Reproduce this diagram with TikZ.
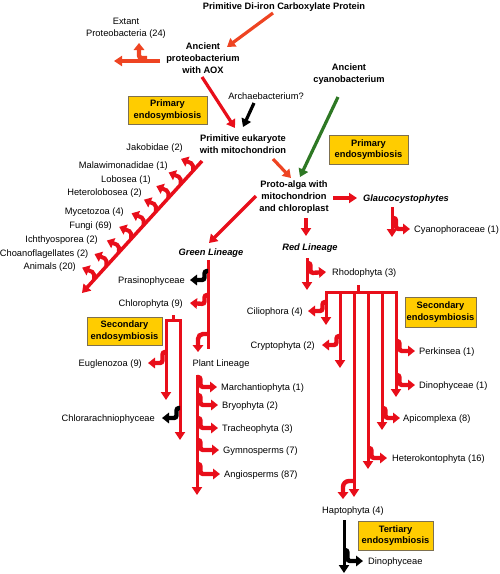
\documentclass[tikz,border=0pt]{standalone}
\usepackage{fontspec}
\setmainfont{Liberation Sans}
\usetikzlibrary{arrows.meta,calc}
\definecolor{lred}{RGB}{232,14,26}
\definecolor{lorange}{RGB}{238,68,34}
\definecolor{lgreen}{RGB}{46,120,36}
\definecolor{lgold}{RGB}{255,204,0}
\definecolor{lborder}{RGB}{125,112,80}
\tikzset{
  fnt/.style={font=\fontsize{9.3}{12}\selectfont},
  lbl/.style={fnt, inner sep=0pt, text height=6.7pt, text depth=0pt},
  blbl/.style={lbl, font=\fontsize{9.3}{12}\selectfont\bfseries},
  ilbl/.style={lbl, font=\fontsize{9.3}{12}\selectfont\bfseries\itshape},
  multi/.style={inner sep=0pt, align=center, font=\fontsize{9.3}{12}\selectfont\bfseries},
  mlbl/.style={inner sep=0pt, align=center, font=\fontsize{9.3}{12}\selectfont},
  ebox/.style={draw=lborder, line width=1pt, fill=lgold, align=center, inner sep=1pt,
    font=\fontsize{9.3}{11.5}\selectfont\bfseries},
  trunk/.style={line width=3pt, lred},
  tarrow/.style={trunk, -{Triangle[width=10pt,length=8pt]}},
  hookr/.style={line width=4.4pt, lred, rounded corners=2.5pt, -{Triangle[width=10.5pt,length=7pt]}},
}
\begin{document}
\begin{tikzpicture}[x=1pt,y=-1pt]
\useasboundingbox (0,0) rectangle (500,574);

% ---------- text nodes ----------
\node[blbl] (top) at (284,6) {Primitive Di-iron Carboxylate Protein};
\node[mlbl] (extant) at (126,28) {Extant\\Proteobacteria (24)};
\node[multi] (anc) at (203,58.5) {Ancient\\proteobacterium\\with AOX};
\node[lbl] (archae) at (266,96) {Archaebacterium?};
\node[multi] (euk) at (243,144.5) {Primitive eukaryote\\with mitochondrion};
\node[multi] (cyano) at (349,74.5) {Ancient\\cyanobacterium};
\node[multi] (proto) at (294,197) {Proto-alga with\\mitochondrion\\and chloroplast};
\node[ilbl] (glauco) at (406,198) {Glaucocystophytes};
\node[lbl, anchor=west] (cyph) at (414,229) {Cyanophoraceae (1)};
\node[ilbl] (redl) at (310,247) {Red Lineage};
\node[ilbl] (greenl) at (211,252) {Green Lineage};

\node[lbl, anchor=east] (jak) at (183,147) {Jakobidae (2)};
\node[lbl, anchor=east] (mal) at (168,165) {Malawimonadidae (1)};
\node[lbl, anchor=east] (lob) at (151,179) {Lobosea (1)};
\node[lbl, anchor=east] (het) at (142,192) {Heterolobosea (2)};
\node[lbl, anchor=east] (myc) at (124,211) {Mycetozoa (4)};
\node[lbl, anchor=east] (fun) at (112,225) {Fungi (69)};
\node[lbl, anchor=east] (ich) at (98,239) {Ichthyosporea (2)};
\node[lbl, anchor=east] (cho) at (88.5,253) {Choanoflagellates (2)};
\node[lbl, anchor=east] (ani) at (76,266) {Animals (20)};

\node[lbl, anchor=east] (pras) at (185,280) {Prasinophyceae};
\node[lbl, anchor=east] (chlo) at (183,303) {Chlorophyta (9)};
\node[lbl] (plant) at (221,363) {Plant Lineage};
\node[lbl, anchor=east] (eugl) at (142,363) {Euglenozoa (9)};
\node[lbl, anchor=east] (chra) at (155,418) {Chlorarachniophyceae};
\node[lbl, anchor=west] (march) at (221,387) {Marchantiophyta (1)};
\node[lbl, anchor=west] (bryo) at (222,405) {Bryophyta (2)};
\node[lbl, anchor=west] (trach) at (222,428) {Tracheophyta (3)};
\node[lbl, anchor=west] (gymno) at (223,450) {Gymnosperms (7)};
\node[lbl, anchor=west] (angio) at (224,474) {Angiosperms (87)};

\node[lbl, anchor=west] (rhodo) at (332,272) {Rhodophyta (3)};
\node[lbl, anchor=east] (cili) at (303,311) {Ciliophora (4)};
\node[lbl, anchor=east] (crypt) at (315,345) {Cryptophyta (2)};
\node[lbl, anchor=west] (perk) at (419,351) {Perkinsea (1)};
\node[lbl, anchor=west] (dino1) at (419,385) {Dinophyceae (1)};
\node[lbl, anchor=west] (apic) at (403,418) {Apicomplexa (8)};
\node[lbl, anchor=west] (hetk) at (392,458) {Heterokontophyta (16)};
\node[lbl] (hapto) at (353,510) {Haptophyta (4)};
\node[lbl, anchor=west] (dino2) at (368,561) {Dinophyceae};

% ---------- boxes ----------
\node[ebox, minimum width=79pt, minimum height=28pt] (box1) at (167.5,110) {Primary\\endosymbiosis};
\node[ebox, minimum width=79pt, minimum height=29pt] (box2) at (368.5,149.5) {Primary\\endosymbiosis};
\node[ebox, minimum width=75pt, minimum height=28pt] (box3) at (124.5,331) {Secondary\\endosymbiosis};
\node[ebox, minimum width=71pt, minimum height=30pt] (box4) at (440.5,312) {Secondary\\endosymbiosis};
\node[ebox, minimum width=75pt, minimum height=29pt] (box5) at (395.5,535.5) {Tertiary\\endosymbiosis};

% ---------- upper arrows ----------
\draw[tarrow, lorange, line width=3.2pt] (273,13) -- (227,47);
\draw[tarrow, lorange, line width=3.2pt] (160,61) -- (114,61);
\draw[hookr, lorange] (147,58) -| (139,43);
\draw[tarrow, line width=3.2pt] (202,77) -- (235,128);
\draw[tarrow, black, line width=3.2pt] (254,103) -- (243,127);
\draw[tarrow, lgreen, line width=3.2pt] (338,97) -- (300,177);
\draw[tarrow, lorange, line width=3.2pt] (273,159) -- (291,178);
\draw[tarrow, line width=3.2pt] (333,198) -- (357,198);
\draw[tarrow, line width=3.2pt] (306,218) -- (306,236);
\draw[tarrow, line width=3.2pt] (256,196) -- (209,243);

% ---------- Glaucocystophytes ----------
\draw[tarrow] (392,207) -- (392,237);
\draw[hookr] (392,218) -- (396,218) -- (396,229) -- ([xshift=-4pt]cyph.west);

% ---------- diagonal (other eukaryotes) ----------
\coordinate (d1) at (202,161);
\coordinate (d2) at (82,293);
\draw[tarrow, line width=3.5pt] (d1) -- (d2);
\foreach \i in {0,...,8}{
  \pgfmathsetmacro\tt{0.075+0.103*\i}
  \draw[hookr, line width=4pt, rounded corners=2pt] ($(d1)!\tt!(d2)$) -- ++(0,-7) -- ++(-12,-5);
}

% ---------- Green lineage ----------
\draw[trunk] (208,260) -- (208,349);
\draw[hookr, black] (208,271) -- (204.5,271) -- (204.5,280) -- ([xshift=5pt]pras.east);
\draw[hookr] (208,295) -- (204.5,295) -- (204.5,304) -- ([xshift=7pt]chlo.east);
\draw[hookr, rounded corners=5pt] (208,334) -| (198,352);

% secondary (green) fork
\draw[trunk] (173,315) -- (173,320);
\draw[tarrow] (173,320) -| (166,400);
\draw[tarrow] (173,320) -| (180,440);
\draw[hookr] (166,352) -- (162.5,352) -- (162.5,363) -- ([xshift=6pt]eugl.east);
\draw[hookr, black] (180,408) -- (176.5,408) -- (176.5,418) -- ([xshift=7pt]chra.east);

% plant lineage
\draw[tarrow] (197,375) -- (197,495);
\foreach \n/\y in {march/387, bryo/405, trach/428, gymno/450, angio/474}{
  \draw[hookr] (197,\y-10) -- (200.5,\y-10) -- (200.5,\y) -- ([xshift=-4pt]\n.west);
}

% ---------- Red lineage ----------
\draw[tarrow] (307,258) -- (307,290);
\draw[hookr] (307,263) -- (310.5,263) -- (310.5,273) -- ([xshift=-6pt]rhodo.west);

\draw[trunk] (358,285) -- (358,292);
\foreach \x/\e in {326/325, 340/368, 354/497, 368/469, 382/430, 396/397}{
  \draw[tarrow] (358,292) -| (\x,\e);
}
\draw[hookr] (326,302) -- (322.5,302) -- (322.5,311) -- ([xshift=5pt]cili.east);
\draw[hookr] (340,336) -- (336.5,336) -- (336.5,345) -- ([xshift=7pt]crypt.east);
\draw[hookr] (396,341) -- (399.5,341) -- (399.5,351) -- ([xshift=-4pt]perk.west);
\draw[hookr] (396,375) -- (399.5,375) -- (399.5,385) -- ([xshift=-4pt]dino1.west);
\draw[hookr] (382,408) -- (385.5,408) -- (385.5,418) -- ([xshift=-3pt]apic.west);
\draw[hookr] (368,448) -- (371.5,448) -- (371.5,458) -- ([xshift=-5pt]hetk.west);
\draw[hookr, rounded corners=6pt] (354,481) -| (343,499);

% ---------- Haptophyta / tertiary ----------
\draw[tarrow, black] (344,520) -- (344,573);
\draw[hookr, black] (344,550) -- (347.5,550) -- (347.5,561) -- ([xshift=-5pt]dino2.west);

\end{tikzpicture}
\end{document}
